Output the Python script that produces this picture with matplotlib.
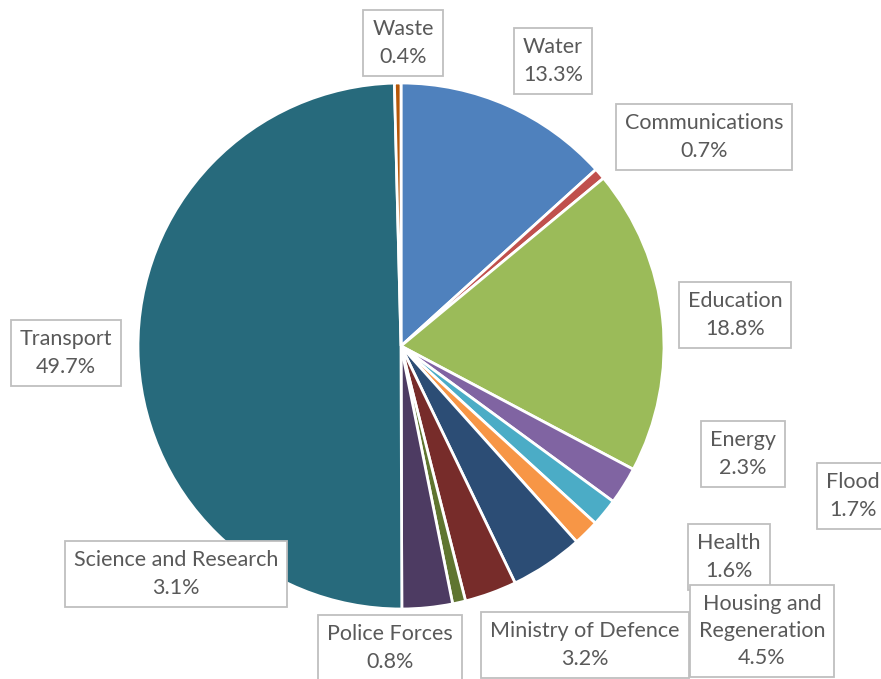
import matplotlib.pyplot as plt

# spending share by department (%), clockwise from 12 o'clock
labels = ["Water", "Communications", "Education", "Energy", "Flood", "Health",
          "Housing and\nRegeneration", "Ministry of Defence", "Police Forces",
          "Science and Research", "Transport", "Waste"]
shares = [13.3, 0.7, 18.8, 2.3, 1.7, 1.6, 4.5, 3.2, 0.8, 3.1, 49.7, 0.4]
colors = ["#4F81BD", "#C0504D", "#9BBB59", "#8064A2", "#4BACC6", "#F79646",
          "#2C4D75", "#772C2A", "#5F7530", "#4D3B62", "#276A7C", "#B65708"]

# label box centres in pixels (x from left, y from top), as placed in the original
label_pos = [(553, 61), (704, 137), (735, 315), (743, 454), (853, 496), (729, 557),
             (762, 631), (585, 645), (390, 648), (176, 574), (66, 353), (403, 43)]

W, H = 881, 679
fig = plt.figure(figsize=(W / 100, H / 100), dpi=100)
ax = fig.add_axes([0, 0, 1, 1])

cx, cy, r = 401, H - 346, 263
ax.pie(shares, colors=colors, startangle=90, counterclock=False,
       center=(cx, cy), radius=r, frame=True,
       wedgeprops=dict(edgecolor="white", linewidth=2))
ax.set_xlim(0, W)
ax.set_ylim(0, H)
ax.axis("off")

for name, val, (px, py) in zip(labels, shares, label_pos):
    ax.text(px, H - py, f"{name}\n{val}%", ha="center", va="center",
            fontsize=15.5, family="Lato", color="#595959", linespacing=1.45,
            multialignment="center",
            bbox=dict(boxstyle="square,pad=0.42", fc="white", ec="#BFBFBF", lw=1.3))

fig.savefig("out.png", dpi=100)
